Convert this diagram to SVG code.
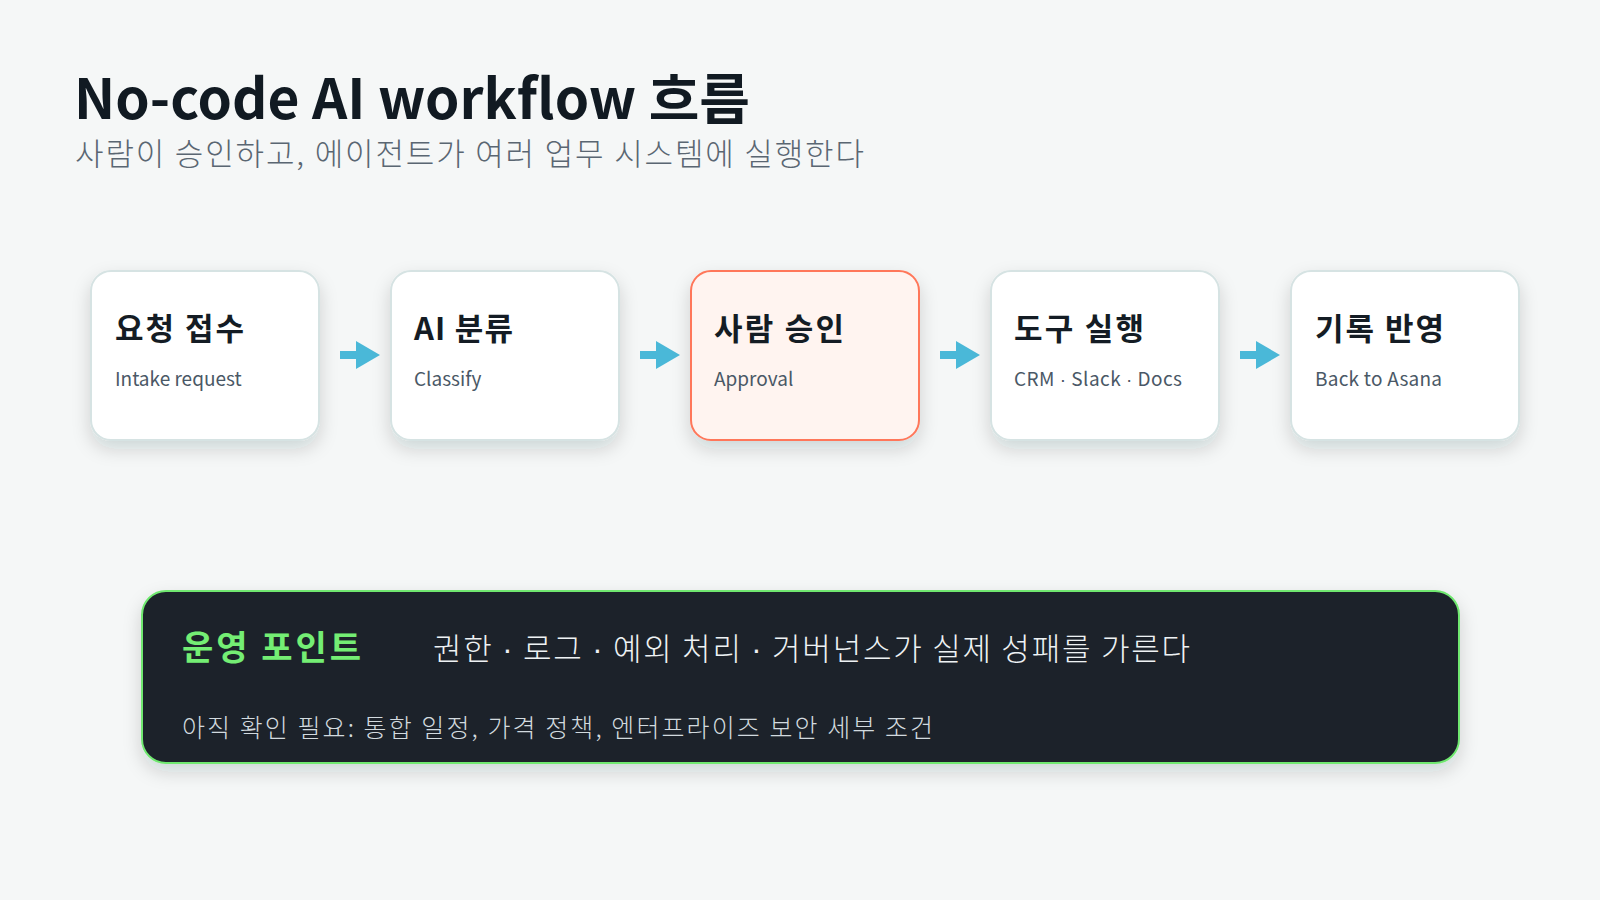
<svg xmlns="http://www.w3.org/2000/svg" width="1600" height="900" viewBox="0 0 1600 900">
<defs>
<style>
.ko{font-family:"Noto Sans CJK KR","Noto Sans",sans-serif}
.dot{font-family:"Liberation Sans",sans-serif}
.title{font-size:55px;font-weight:700;fill:#111a22}
.sub{font-size:31px;font-weight:300;fill:#5a6672}
.card{fill:#ffffff;stroke:#d6e3e3;stroke-width:2}
.hl{fill:#fff4f0;stroke:#ff775a;stroke-width:2}
.nt{font-size:31px;font-weight:700;fill:#141c24}
.ns{font-size:19px;font-weight:400;fill:#4a5866}
.arr{fill:#4ab8d8}
</style>
<filter id="sh" x="-20%" y="-20%" width="140%" height="150%">
<feDropShadow dx="0" dy="8" stdDeviation="9" flood-color="#1b2a30" flood-opacity="0.16"/>
</filter>
<symbol id="arrow" viewBox="0 0 40 28" overflow="visible">
<rect x="0" y="10" width="20" height="8" class="arr"/>
<polygon points="16,0 40,14 16,28" class="arr"/>
</symbol>
</defs>
<rect width="1600" height="900" fill="#f5f7f7"/>
<text x="74" y="119" class="ko title" textLength="676" lengthAdjust="spacingAndGlyphs">No-code AI workflow 흐름</text>
<text x="75" y="165" class="ko sub" textLength="789" lengthAdjust="spacing">사람이 승인하고, 에이전트가 여러 업무 시스템에 실행한다</text>

<g id="connectors">
<use href="#arrow" x="340" y="341" width="40" height="28"/>
<use href="#arrow" x="640" y="341" width="40" height="28"/>
<use href="#arrow" x="940" y="341" width="40" height="28"/>
<use href="#arrow" x="1240" y="341" width="40" height="28"/>
</g>

<g id="n1">
<rect x="91" y="271" width="228" height="169" rx="20" class="card" filter="url(#sh)"/>
<text x="115" y="340" class="ko nt" textLength="129" lengthAdjust="spacing">요청 접수</text>
<text x="115" y="386" class="ko ns">Intake request</text>
</g>
<g id="n2">
<rect x="391" y="271" width="228" height="169" rx="20" class="card" filter="url(#sh)"/>
<text x="414" y="340" class="ko nt" textLength="99" lengthAdjust="spacing">AI 분류</text>
<text x="414" y="386" class="ko ns">Classify</text>
</g>
<g id="n3">
<rect x="691" y="271" width="228" height="169" rx="20" class="hl" filter="url(#sh)"/>
<text x="714" y="340" class="ko nt" textLength="130" lengthAdjust="spacing">사람 승인</text>
<text x="714" y="386" class="ko ns">Approval</text>
</g>
<g id="n4">
<rect x="991" y="271" width="228" height="169" rx="20" class="card" filter="url(#sh)"/>
<text x="1014" y="340" class="ko nt" textLength="130" lengthAdjust="spacing">도구 실행</text>
<text x="1014" y="386" class="ko ns" textLength="168" lengthAdjust="spacing">CRM <tspan class="dot">·</tspan> Slack <tspan class="dot">·</tspan> Docs</text>
</g>
<g id="n5">
<rect x="1291" y="271" width="228" height="169" rx="20" class="card" filter="url(#sh)"/>
<text x="1315" y="340" class="ko nt" textLength="129" lengthAdjust="spacing">기록 반영</text>
<text x="1315" y="386" class="ko ns" textLength="127" lengthAdjust="spacing">Back to Asana</text>
</g>

<g id="ops">
<rect x="142" y="591" width="1317" height="172" rx="24" fill="#1b2129" stroke="#6fe86f" stroke-width="2" filter="url(#sh)"/>
<text x="182" y="660" class="ko" font-size="34" font-weight="700" fill="#74ee74" textLength="179" lengthAdjust="spacing">운영 포인트</text>
<text x="433" y="660" class="ko" font-size="31" font-weight="300" fill="#eef2f4" textLength="757" lengthAdjust="spacing">권한 <tspan class="dot">·</tspan> 로그 <tspan class="dot">·</tspan> 예외 처리 <tspan class="dot">·</tspan> 거버넌스가 실제 성패를 가른다</text>
<text x="182" y="737" class="ko" font-size="25" font-weight="300" fill="#d2dadf" textLength="751" lengthAdjust="spacing">아직 확인 필요: 통합 일정, 가격 정책, 엔터프라이즈 보안 세부 조건</text>
</g>
</svg>
